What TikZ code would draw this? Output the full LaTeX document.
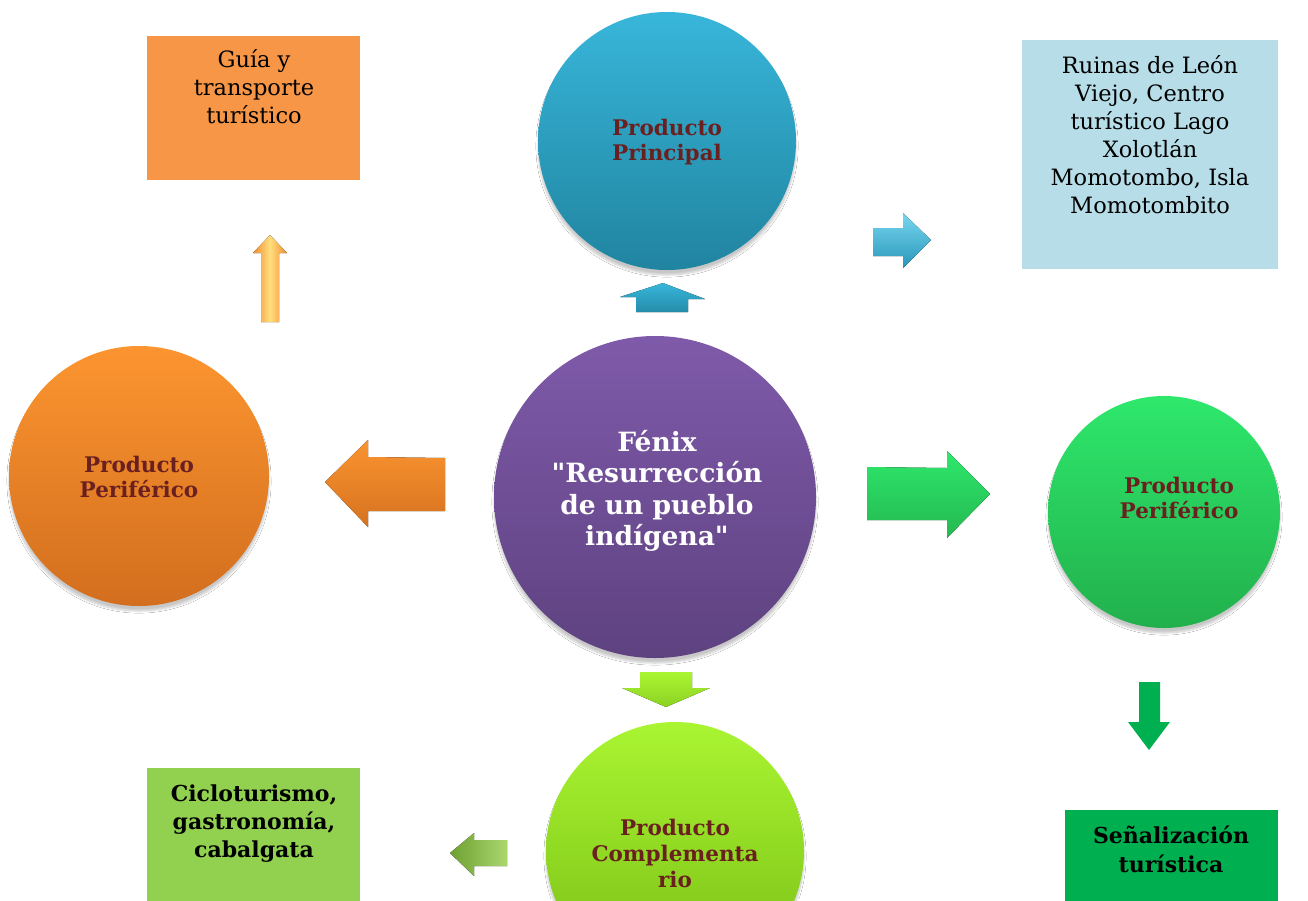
\documentclass[tikz,border=0pt]{standalone}
\usepackage{fontspec}
\setmainfont{DejaVu Serif}[Ligatures=TeXOff]
\usetikzlibrary{calc,shadows.blur}
\definecolor{txtred}{HTML}{6B2020}
\definecolor{boxorange}{HTML}{F79646}
\definecolor{boxblue}{HTML}{B7DDE8}
\definecolor{boxgreen}{HTML}{92D050}
\definecolor{boxdkgreen}{HTML}{00B050}
\tikzset{
  bubble/.style={circle, draw=none, inner sep=0pt, align=center,
    blur shadow={shadow xshift=0pt, shadow yshift=-5pt, shadow blur steps=8, shadow opacity=22}},
  bubbletext/.style={align=center, inner sep=0pt, font=\fontsize{21.5}{25.5}\selectfont\bfseries, text=txtred},
  sqbox/.style={rectangle, draw=none, inner sep=0pt, anchor=north west},
  boxtext/.style={align=center, inner sep=0pt, font=\fontsize{22.5}{28}\selectfont}
}
\begin{document}
\begin{tikzpicture}[x=1pt,y=-1pt]
\useasboundingbox (0,0) rectangle (1308,900);
\fill[white] (0,0) rectangle (1308,900);

% boxes
\node[sqbox, fill=boxorange, minimum width=213pt, minimum height=144pt] (guia) at (147,36) {};
\node[boxtext] (guiat) at (254,87) {Guía y\\transporte\\turístico};

\node[sqbox, fill=boxblue, minimum width=256pt, minimum height=229pt] (ruinas) at (1022,40) {};
\node[boxtext] (ruinast) at (1150,135) {Ruinas de León\\Viejo, Centro\\turístico Lago\\Xolotlán\\Momotombo, Isla\\Momotombito};

\node[sqbox, fill=boxgreen, minimum width=213pt, minimum height=140pt] (ciclo) at (147,768) {};
\node[boxtext, font=\fontsize{22}{28}\selectfont\bfseries] (ciclot) at (254,824) {Cicloturismo,\\gastronomía,\\cabalgata};

\node[sqbox, fill=boxdkgreen, minimum width=213pt, minimum height=100pt] (senal) at (1065,810) {};
\node[boxtext, font=\fontsize{22}{29}\selectfont\bfseries] (senalt) at (1171,849) {Señalización\\turística};

% circles
\node[bubble, minimum size=258pt, top color={rgb,255:red,56;green,182;blue,218}, bottom color={rgb,255:red,32;green,132;blue,160}] (principal) at (667,141) {};
\node[bubbletext] (principalt) at (667,142) {Producto\\Principal};

\node[bubble, minimum size=322pt, top color={rgb,255:red,127;green,90;blue,170}, bottom color={rgb,255:red,94;green,66;blue,128}] (fenix) at (655,497) {};
\node[align=center, inner sep=0pt, text=white, font=\fontsize{26.5}{31.5}\selectfont\bfseries] (fenixt) at (657,491) {Fénix\\"Resurrección\\de un pueblo\\indígena"};

\node[bubble, minimum size=260pt, top color={rgb,255:red,252;green,149;blue,48}, bottom color={rgb,255:red,210;green,110;blue,30}] (perizq) at (139,476) {};
\node[bubbletext] (perizqt) at (139,477) {Producto\\Periférico};

\node[bubble, minimum size=232pt, top color={rgb,255:red,46;green,232;blue,108}, bottom color={rgb,255:red,34;green,176;blue,76}] (perder) at (1164,512) {};
\node[bubbletext] (perdert) at (1179,498) {Producto\\Periférico};

\node[bubble, minimum size=258pt, top color={rgb,255:red,170;green,245;blue,50}, bottom color={rgb,255:red,120;green,190;blue,20}] (compl) at (675,851) {};
\node[bubbletext, font=\fontsize{21.5}{26}\selectfont\bfseries] (complt) at (675,853) {Producto\\Complementa\\rio};

% arrows
\fill[top color={rgb,255:red,56;green,182;blue,218}, bottom color={rgb,255:red,36;green,140;blue,170}]
  (636,312) -- (636,297) -- (620,297) -- (663,283) -- (705,299) -- (688,299) -- (688,312) -- cycle;

\fill[left color={rgb,255:red,242;green,140;blue,50}, right color={rgb,255:red,242;green,140;blue,50}, middle color={rgb,255:red,255;green,222;blue,125}]
  (261,322) -- (261,253) -- (253,253) -- (270,235) -- (287,253) -- (279,253) -- (279,322) -- cycle;

\fill[top color={rgb,255:red,120;green,215;blue,240}, bottom color={rgb,255:red,40;green,150;blue,185}]
  (873,228) -- (903,228) -- (903,213) -- (931,240) -- (903,268) -- (903,256) -- (873,256) -- cycle;

\fill[top color={rgb,255:red,250;green,148;blue,48}, bottom color={rgb,255:red,214;green,114;blue,32}]
  (445,458) -- (368,457) -- (368,440) -- (325,482) -- (368,527) -- (368,511) -- (445,511) -- cycle;

\fill[top color={rgb,255:red,46;green,232;blue,108}, bottom color={rgb,255:red,36;green,184;blue,80}]
  (867,467) -- (947,468) -- (947,451) -- (990,494) -- (947,538) -- (947,520) -- (867,520) -- cycle;

\fill[top color={rgb,255:red,170;green,245;blue,50}, bottom color={rgb,255:red,140;green,210;blue,35}]
  (640,672) -- (692,672) -- (692,688) -- (710,688) -- (666,707) -- (622,688) -- (640,688) -- cycle;

\fill[left color={rgb,255:red,110;green,160;blue,50}, right color={rgb,255:red,170;green,215;blue,110}]
  (507,840) -- (474,840) -- (474,833) -- (450,853) -- (474,876) -- (474,866) -- (507,866) -- cycle;

\fill[boxdkgreen]
  (1139,682) -- (1160,682) -- (1160,722) -- (1170,722) -- (1149,750) -- (1128,722) -- (1139,722) -- cycle;
\end{tikzpicture}
\end{document}
